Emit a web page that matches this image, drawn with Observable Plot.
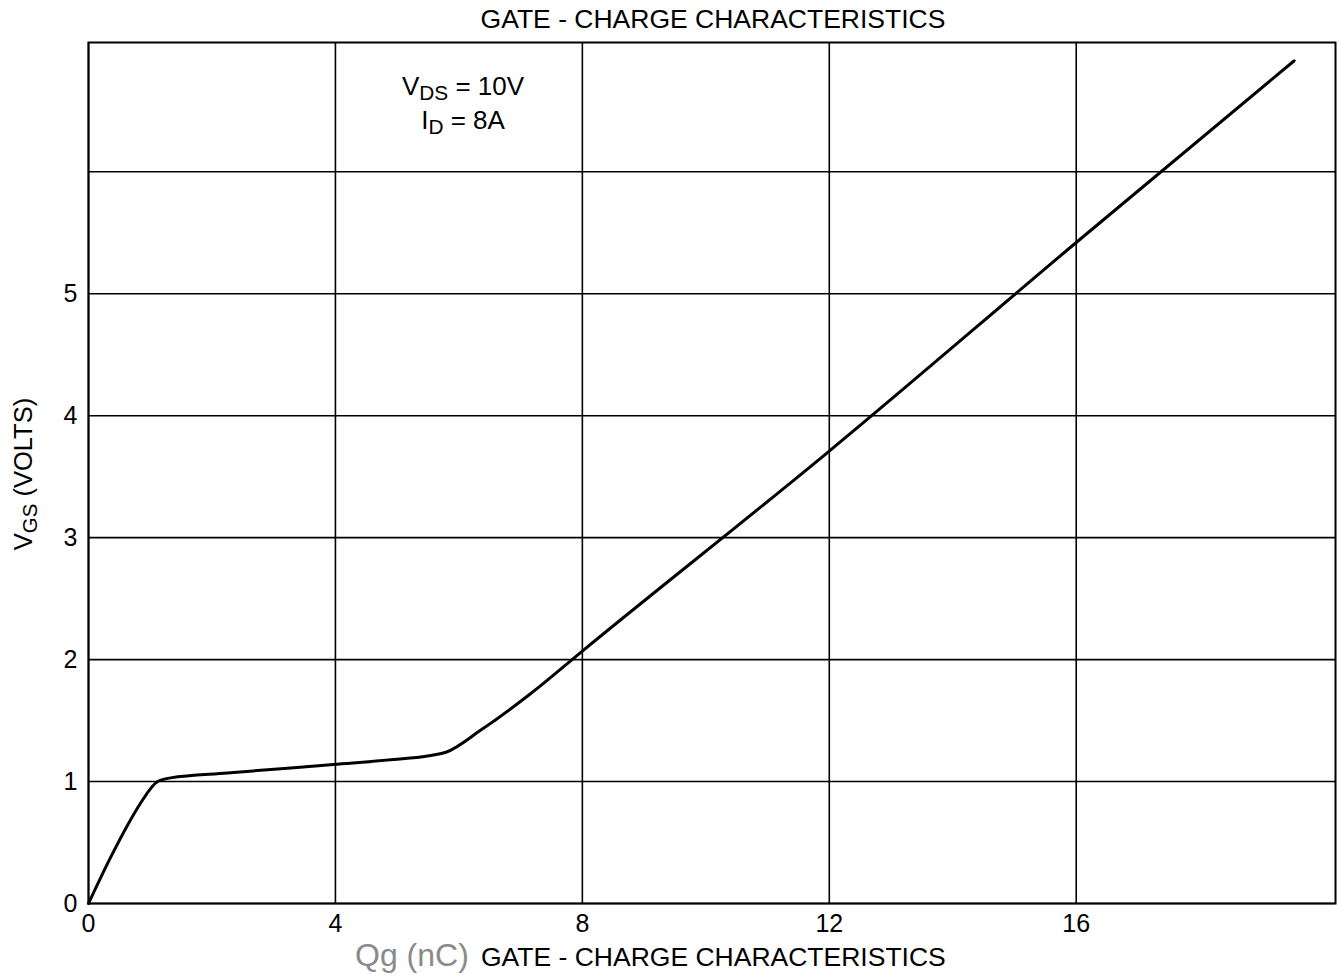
<!DOCTYPE html>
<html>
<head>
<meta charset="utf-8">
<script src="https://cdn.jsdelivr.net/npm/d3@7"></script>
<script src="https://cdn.jsdelivr.net/npm/@observablehq/plot@0.6"></script>
<style>
  html, body { margin: 0; padding: 0; background: #fff; }
  #chart { width: 1341px; height: 978px; }
</style>
</head>
<body>
<div id="chart"></div>
<script>
// Gate charge Qg (nC) and gate-source voltage VGS (V)
const qg  = [0, 0.36, 0.63, 0.84, 1.12, 1.33, 2.25, 3.97, 4.94, 5.49, 5.79, 6.35, 7.16, 8.0, 12.0, 16.0, 19.53];
const vgs = [0, 0.38, 0.64, 0.82, 1.00, 1.03, 1.07, 1.14, 1.18, 1.21, 1.24, 1.42, 1.72, 2.07, 3.71, 5.42, 6.91];
const xTicks = [0, 4, 8, 12, 16];
const yTicks = [0, 1, 2, 3, 4, 5];
const yGrid = [0, 1, 2, 3, 4, 5, 6];
const xDomain = [0, 20.2];
const yDomain = [0, 7.06];
const titleText = "GATE - CHARGE CHARACTERISTICS";
const xLabelText = "Qg (nC)";

const data = qg.map((q, i) => ({q, v: vgs[i]}));

const plot = Plot.plot({
  width: 1341,
  height: 978,
  marginLeft: 88,
  marginRight: 6,
  marginTop: 42,
  marginBottom: 75,
  style: {fontFamily: "'Liberation Sans', Arial, Helvetica, sans-serif", fontSize: "25px", color: "#000", background: "#fff"},
  x: {domain: xDomain},
  y: {domain: yDomain},
  marks: [
    Plot.gridX(xTicks, {stroke: "#000", strokeOpacity: 1, strokeWidth: 1.6}),
    Plot.gridY(yGrid, {stroke: "#000", strokeOpacity: 1, strokeWidth: 1.6}),
    Plot.frame({stroke: "#000", strokeWidth: 2}),
    Plot.axisX({ticks: xTicks, tickSize: 0, tickPadding: 11, label: null, fontSize: 25, tickFormat: d => String(d)}),
    Plot.axisY({ticks: yTicks, tickSize: 0, tickPadding: 11, label: null, fontSize: 25, tickFormat: d => String(d)}),
    Plot.line(data, {x: "q", y: "v", stroke: "#000", strokeWidth: 3, curve: "monotone-x"})
  ]
});

document.getElementById("chart").appendChild(plot);

const svg = d3.select(plot);
const font = "'Liberation Sans', Arial, Helvetica, sans-serif";

function addText(x, y, parts, opts = {}) {
  const size = opts.size || 25;
  const t = svg.append("text")
    .attr("x", x).attr("y", y)
    .attr("font-family", font)
    .attr("font-size", size)
    .attr("fill", opts.fill || "#000")
    .attr("text-anchor", opts.anchor || "start");
  if (opts.transform) t.attr("transform", opts.transform).attr("x", 0).attr("y", 0);
  let shifted = false;
  for (const p of parts) {
    const ts = t.append("tspan").text(p.text);
    if (p.sub) {
      ts.attr("font-size", size * 0.8).attr("dy", 5);
      shifted = true;
    } else if (shifted) {
      ts.attr("dy", -5);
      shifted = false;
    }
  }
  return t;
}

// Title
addText(713, 28, [{text: titleText}], {anchor: "middle", size: 26.5});
// Bottom caption
addText(355, 966, [{text: xLabelText}], {size: 32, fill: "#8a8a8a"});
addText(481, 966, [{text: titleText}], {size: 26.5});
// Y axis label
addText(0, 0, [{text: "V"}, {text: "GS", sub: true}, {text: " (VOLTS)"}], {anchor: "middle", size: 25.5, transform: "translate(32,474) rotate(-90)"});
// Conditions annotation
addText(463, 95, [{text: "V"}, {text: "DS", sub: true}, {text: " = 10V"}], {anchor: "middle", size: 26});
addText(463, 129, [{text: "I"}, {text: "D", sub: true}, {text: " = 8A"}], {anchor: "middle", size: 26});
</script>
</body>
</html>
